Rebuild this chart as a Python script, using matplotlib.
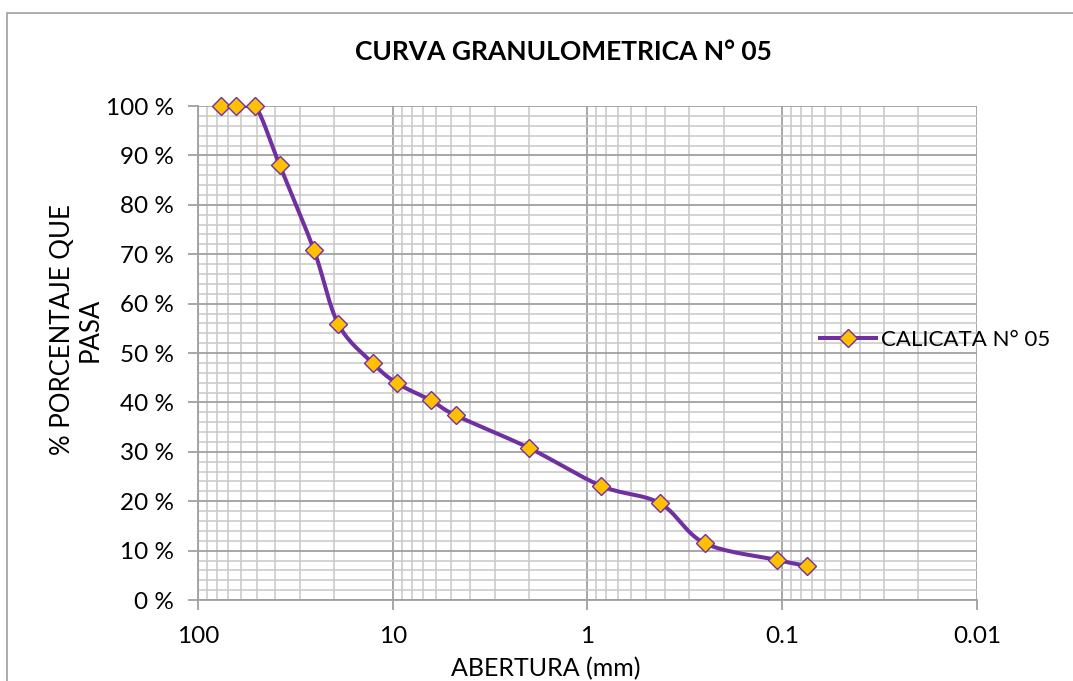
import numpy as np
import matplotlib
matplotlib.use("Agg")
import matplotlib.pyplot as plt
from matplotlib.lines import Line2D
from matplotlib.patches import Rectangle
from matplotlib.ticker import FixedLocator, NullFormatter, FuncFormatter

plt.rcParams['font.family'] = ['Lato', 'DejaVu Sans']

# sieve openings (mm) and percent passing
abertura = [76.2, 63.5, 50.8, 38.1, 25.4, 19.05, 12.7, 9.525, 6.35, 4.76,
            2.0, 0.85, 0.425, 0.25, 0.106, 0.075]
pasa = [100.0, 100.0, 100.0, 88.1, 70.9, 55.9, 48.0, 43.9, 40.4, 37.4,
        30.8, 23.1, 19.6, 11.5, 8.1, 6.9]

x_ticks = [100, 10, 1, 0.1, 0.01]
x_tick_labels = ['100', '10', '1', '0.1', '0.01']
y_ticks = list(range(0, 101, 10))

purple = '#7030A0'
gold = '#FFC000'


def smooth(xs, ys, n=30):
    # Catmull-Rom through the points, in log-x space
    px = np.log10(xs)
    py = np.asarray(ys, dtype=float)
    px = np.concatenate([[2 * px[0] - px[1]], px, [2 * px[-1] - px[-2]]])
    py = np.concatenate([[2 * py[0] - py[1]], py, [2 * py[-1] - py[-2]]])
    outx, outy = [], []
    t = np.linspace(0, 1, n)
    for i in range(1, len(px) - 2):
        for arr, out in ((px, outx), (py, outy)):
            p0, p1, p2, p3 = arr[i - 1], arr[i], arr[i + 1], arr[i + 2]
            out.extend(0.5 * ((2 * p1) + (-p0 + p2) * t +
                              (2 * p0 - 5 * p1 + 4 * p2 - p3) * t ** 2 +
                              (-p0 + 3 * p1 - 3 * p2 + p3) * t ** 3))
    return 10 ** np.array(outx), np.minimum(np.array(outy), 100.0)


fig = plt.figure(figsize=(10.73, 6.81), dpi=100)
ax = fig.add_axes([0.1845, 0.1189, 0.7260, 0.7254])

# chart frame
fig.patches.append(Rectangle((7 / 1073, -0.1), 1.2, 1 - 13 / 681 + 0.1,
                             transform=fig.transFigure, fill=False,
                             edgecolor='#A6A6A6', linewidth=1.3))

ax.set_xscale('log')
ax.set_xlim(100, 0.01)
ax.set_ylim(0, 100)

minor_x = [m * 10.0 ** e for e in range(-2, 2) for m in range(2, 10)]
ax.xaxis.set_major_locator(FixedLocator(x_ticks))
ax.xaxis.set_minor_locator(FixedLocator(minor_x))
ax.xaxis.set_major_formatter(FuncFormatter(lambda v, p: x_tick_labels[x_ticks.index(v)] if v in x_ticks else ''))
ax.xaxis.set_minor_formatter(NullFormatter())

ax.yaxis.set_major_locator(FixedLocator(y_ticks))
ax.yaxis.set_minor_locator(FixedLocator(list(range(0, 101, 2))))
ax.yaxis.set_major_formatter(FuncFormatter(lambda v, p: f'{int(v)} %'))

ax.grid(which='major', color='#A0A0A0', linewidth=1.3)
ax.grid(which='minor', color='#C8C8C8', linewidth=1.1)
ax.set_axisbelow(True)

for side in ('top', 'right'):
    ax.spines[side].set_visible(False)
for side in ('left', 'bottom'):
    ax.spines[side].set_color('#A0A0A0')
    ax.spines[side].set_linewidth(1.3)

ax.tick_params(which='major', length=7, width=1.3, color='#A0A0A0',
               labelsize=17.5, labelcolor='black')
ax.tick_params(axis='y', which='major', pad=10)
ax.tick_params(axis='x', which='major', pad=12)
ax.tick_params(which='minor', length=0)

sx, sy = smooth(abertura, pasa)
ax.plot(sx, sy, color=purple, linewidth=2.9, solid_capstyle='round', zorder=3)
ax.plot(abertura, pasa, linestyle='none', marker='D', markersize=9.5,
        markerfacecolor=gold, markeredgecolor=purple, markeredgewidth=1.0,
        zorder=4, clip_on=False)

fig.text(563 / 1073, 1 - 52 / 681, 'CURVA GRANULOMETRICA N° 05',
         ha='center', va='center', fontsize=19, fontweight='bold')
fig.text(546 / 1073, 1 - 669 / 681, 'ABERTURA (mm)', ha='center', va='center', fontsize=18)
fig.text(76 / 1073, 1 - 330 / 681, '% PORCENTAJE QUE\nPASA', ha='center', va='center',
         rotation=90, fontsize=18.5, linespacing=1.15)

handle = Line2D([], [], color=purple, linewidth=2.9, marker='D', markersize=9.5,
                markerfacecolor=gold, markeredgecolor=purple)
fig.legend([handle], ['CALICATA N° 05'], loc='center left',
           bbox_to_anchor=(800 / 1073, 1 - 340 / 681), frameon=False,
           fontsize=16, handlelength=2.5, handletextpad=0.25)

fig.savefig('out.png', dpi=100)
